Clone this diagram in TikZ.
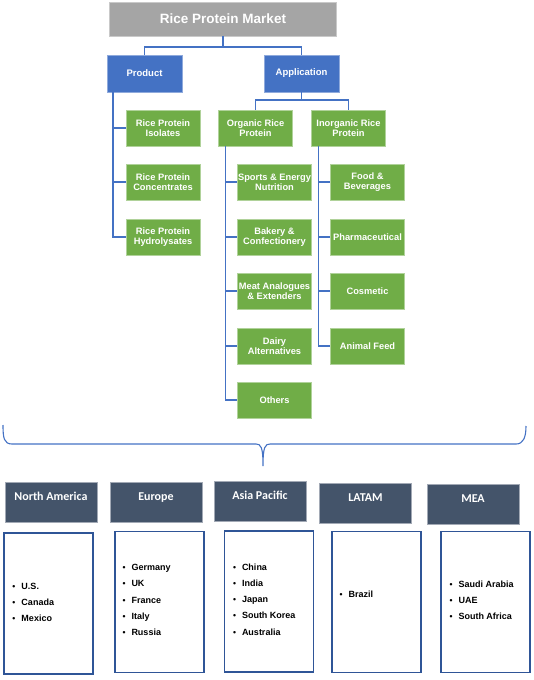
\documentclass[tikz,border=0pt]{standalone}
\usepackage{fontspec}
\setmainfont{Liberation Sans}
\newfontfamily\hdrfont{Carlito}
\usepackage{xcolor}
\usepackage{tikz}
\usetikzlibrary{calc}

\definecolor{mktgray}{HTML}{A5A5A5}
\definecolor{mktblue}{HTML}{4472C4}
\definecolor{mktgreen}{HTML}{70AD47}
\definecolor{mktslate}{HTML}{44546A}
\definecolor{mktframe}{HTML}{2F5597}

\newcommand\itm[1]{\makebox[9pt][l]{\fontsize{8.5}{8.5}\selectfont\textbullet}#1}

\tikzset{
  titlebox/.style={fill=mktgray, draw=mktgray!60!white, thin, text=white, inner sep=0pt,
    font=\bfseries\fontsize{13.5}{16}\selectfont, minimum width=227pt, minimum height=34pt},
  bluebox/.style={fill=mktblue, draw=mktblue!60!white, thin, text=white, inner sep=0pt,
    font=\bfseries\fontsize{9.5}{10}\selectfont, minimum width=75pt, minimum height=37pt},
  greenbox/.style={fill=mktgreen, draw=mktgreen!55!white, thin, text=white, inner sep=0pt, align=center,
    font=\bfseries\fontsize{9.3}{9.6}\selectfont, minimum width=74pt, minimum height=36pt},
  link/.style={draw=mktblue, line width=1.6pt},
  regionbox/.style={fill=mktslate, draw=mktslate!50!white, thin, text=white, inner sep=0pt,
    font=\hdrfont\bfseries\fontsize{12}{14}\selectfont, text height=8pt, text depth=12pt,
    minimum width=92pt, minimum height=40pt},
  listbox/.style={draw=mktframe, line width=1.4pt, fill=white, minimum width=89pt, minimum height=141pt},
  listtext/.style={font=\bfseries\fontsize{9}{16.2}\selectfont, align=left, anchor=west, inner sep=0pt}
}

\begin{document}
\begin{tikzpicture}[x=1pt, y=-1pt]
  \useasboundingbox (0,0) rectangle (533,680);

  % top of the tree
  \node[titlebox] (market) at (223,19) {Rice Protein Market};
  \node[bluebox] (product) at (144.5,73.5) {Product};
  \node[bluebox] (application) at (301.5,73.5) {Application};
  \draw[link] (market.south) -- ++(0,11) -| (product.north);
  \draw[link] (market.south) ++(0,11) -| (application.north);

  % product branch
  \node[greenbox] (isolates) at (163,128) {Rice Protein\\Isolates};
  \node[greenbox] (concentrates) at (163,182) {Rice Protein\\Concentrates};
  \node[greenbox] (hydrolysates) at (163,237) {Rice Protein\\Hydrolysates};
  \coordinate (pbus) at ($(product.south west)+(6,0)$);
  \draw[link] (pbus) |- (hydrolysates.west);
  \foreach \n in {isolates,concentrates}
    \draw[link] (pbus |- \n.west) -- (\n.west);

  % application branch
  \node[greenbox] (organic) at (255.5,128) {Organic Rice\\Protein};
  \node[greenbox] (inorganic) at (348.5,128) {Inorganic Rice\\Protein};
  \draw[link] (application.south) -- ++(0,8) -| (organic.north);
  \draw[link] (application.south) ++(0,8) -| (inorganic.north);

  \node[greenbox] (sports) at (274.5,182) {Sports \& Energy\\Nutrition};
  \node[greenbox] (bakery) at (274.5,237) {Bakery \&\\Confectionery};
  \node[greenbox] (meat) at (274.5,291) {Meat Analogues\\\& Extenders};
  \node[greenbox] (dairy) at (274.5,346) {Dairy\\Alternatives};
  \node[greenbox] (others) at (274.5,400) {Others};
  \coordinate (obus) at ($(organic.south west)+(7,0)$);
  \draw[link] (obus) |- (others.west);
  \foreach \n in {sports,bakery,meat,dairy}
    \draw[link] (obus |- \n.west) -- (\n.west);

  \node[greenbox] (food) at (367.5,182) {Food \&\\Beverages};
  \node[greenbox] (pharma) at (367.5,237) {Pharmaceutical};
  \node[greenbox] (cosmetic) at (367.5,291) {Cosmetic};
  \node[greenbox] (feed) at (367.5,346) {Animal Feed};
  \coordinate (ibus) at ($(inorganic.south west)+(7,0)$);
  \draw[link] (ibus) |- (feed.west);
  \foreach \n in {food,pharma,cosmetic}
    \draw[link] (ibus |- \n.west) -- (\n.west);

  % brace over the regions
  \draw[mktblue, line width=1.1pt]
    (3,425) .. controls (3,438) and (4,444) .. (12,444) -- (256,444)
    .. controls (261,444) and (263,447) .. (263,466)
    .. controls (263,447) and (265,444) .. (270,444) -- (516,444)
    .. controls (523,444) and (526,438) .. (526,426);

  % regions
  \node[regionbox] (na) at (51,502) {North America};
  \node[regionbox] (eu) at (156,502.5) {Europe};
  \node[regionbox] (ap) at (260,501.5) {Asia Pacific};
  \node[regionbox] (latam) at (365.5,503) {LATAM};
  \node[regionbox] (mea) at (473,504) {MEA};

  \node[listbox] (nabox) at (48.5,603.5) {};
  \node[listbox] (eubox) at (159.5,602) {};
  \node[listbox] (apbox) at (269,601.5) {};
  \node[listbox] (latambox) at (376.5,602) {};
  \node[listbox] (meabox) at (485.5,602) {};

  \node[listtext] (nalist) at ($(nabox.west)+(9,-1)$) {\itm{U.S.}\\\itm{Canada}\\\itm{Mexico}};
  \node[listtext] (eulist) at ($(eubox.west)+(8,-2)$) {\itm{Germany}\\\itm{UK}\\\itm{France}\\\itm{Italy}\\\itm{Russia}};
  \node[listtext] (aplist) at ($(apbox.west)+(9,-2)$) {\itm{China}\\\itm{India}\\\itm{Japan}\\\itm{South Korea}\\\itm{Australia}};
  \node[listtext] (latamlist) at ($(latambox.west)+(8,-8)$) {\itm{Brazil}};
  \node[listtext] (mealist) at ($(meabox.west)+(9,-2)$) {\itm{Saudi Arabia}\\\itm{UAE}\\\itm{South Africa}};
\end{tikzpicture}
\end{document}
